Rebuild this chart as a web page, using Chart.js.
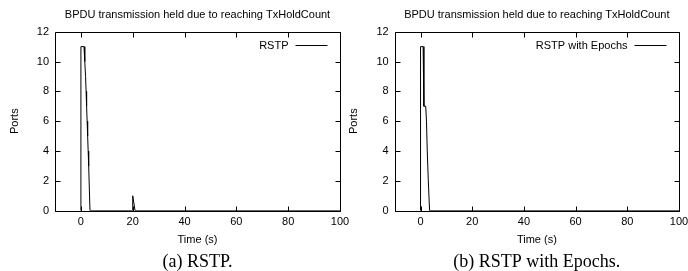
<!DOCTYPE html>
<html>
<head>
<meta charset="utf-8">
<script src="https://cdn.jsdelivr.net/npm/chart.js@4.4.0/dist/chart.umd.min.js"></script>
<style>
  html, body { margin: 0; padding: 0; background: #fff; overflow: hidden; }
  #wrap { position: relative; width: 688px; height: 271px; overflow: hidden; }
  canvas { position: absolute; top: 0; }
</style>
</head>
<body>
<div id="wrap">
  <canvas id="left" width="360" height="271" style="left:0"></canvas>
  <canvas id="right" width="360" height="271" style="left:344px"></canvas>
</div>
<script>
const titleText = 'BPDU transmission held due to reaching TxHoldCount';
const xTicks = [0, 20, 40, 60, 80, 100];
const yTicks = [0, 2, 4, 6, 8, 10, 12];

// (a) RSTP
const rstpTime  = [0, 0, 1.2, 1.5, 1.8, 2.0, 2.2, 2.4, 2.6, 2.8, 3.0, 3.5, 19.9, 20, 20.9, 100];
const rstpPorts = [0, 11, 11, 10, 9, 8, 7, 6, 5, 4, 3, 0, 0, 1, 0, 0];

// (b) RSTP with Epochs
const epochTime  = [0, 0, 1.0, 1.3, 2.0, 2.3, 2.6, 3.0, 3.5, 100];
const epochPorts = [0, 11, 11, 7, 7, 6, 4, 2, 0, 0];

Chart.defaults.font.family = "'Liberation Sans', Arial, sans-serif";
Chart.defaults.font.size = 11;
Chart.defaults.color = '#000';

// gnuplot style box with inward ticks on all four sides + key at top right
const frame = {
  id: 'frame',
  afterDatasetsDraw(chart) {
    const { ctx, chartArea: a, scales: { x, y } } = chart;
    const L = Math.round(a.left) + 0.5, R = Math.round(a.right) + 0.5;
    const T = Math.round(a.top) + 0.5, B = Math.round(a.bottom) + 0.5;
    const len = 5;
    ctx.save();
    ctx.strokeStyle = '#000';
    ctx.lineWidth = 1;
    ctx.beginPath();
    ctx.rect(L, T, R - L, B - T);
    xTicks.forEach(v => {
      const px = Math.round(x.getPixelForValue(v)) + 0.5;
      ctx.moveTo(px, B); ctx.lineTo(px, B - len);
      ctx.moveTo(px, T); ctx.lineTo(px, T + len);
    });
    yTicks.forEach(v => {
      const py = Math.round(y.getPixelForValue(v)) + 0.5;
      ctx.moveTo(L, py); ctx.lineTo(L + len, py);
      ctx.moveTo(R, py); ctx.lineTo(R - len, py);
    });
    ctx.stroke();

    // key
    const ds = chart.data.datasets[0];
    const ky = Math.round(T + 12) + 0.5;
    const x1 = R - 45, x2 = R - 13;
    ctx.beginPath();
    ctx.strokeStyle = ds.borderColor;
    ctx.moveTo(x1, ky); ctx.lineTo(x2, ky);
    ctx.stroke();
    ctx.fillStyle = '#000';
    ctx.font = "11px 'Liberation Sans', Arial, sans-serif";
    ctx.textAlign = 'right';
    ctx.textBaseline = 'middle';
    ctx.fillText(ds.label, x1 - 7, ky);
    ctx.restore();
  }
};

function makeChart(id, times, ports, label, caption, yWidth, padRight, portsPad) {
  const pts = times.map((t, i) => ({ x: t, y: ports[i] }));
  return new Chart(document.getElementById(id), {
    type: 'line',
    data: {
      datasets: [{
        label: label,
        data: pts,
        borderColor: '#000',
        backgroundColor: '#000',
        borderWidth: 1,
        pointRadius: 0,
        tension: 0,
        fill: false
      }]
    },
    options: {
      responsive: false,
      animation: false,
      layout: { padding: { left: 0, right: padRight, top: 0, bottom: 0 } },
      scales: {
        x: {
          type: 'linear',
          min: -10, max: 100,
          afterBuildTicks: s => { s.ticks = xTicks.map(v => ({ value: v })); },
          afterFit: s => { s.height = 42.3; },
          grid: { display: false, drawTicks: false },
          border: { display: false },
          ticks: { padding: 5, maxRotation: 0 },
          title: { display: true, text: 'Time (s)', padding: { top: 0, bottom: 6.4 } }
        },
        y: {
          min: 0, max: 12,
          afterBuildTicks: s => { s.ticks = yTicks.map(v => ({ value: v })); },
          afterFit: s => { s.width = yWidth; },
          grid: { display: false, drawTicks: false },
          border: { display: false },
          ticks: { padding: 6 },
          title: { display: true, text: 'Ports', padding: { top: portsPad, bottom: 0 } }
        }
      },
      plugins: {
        title: {
          display: true,
          text: titleText,
          fullSize: false,
          font: { size: 11, weight: 'normal' },
          padding: { top: 8, bottom: 10.5 }
        },
        subtitle: {
          display: true,
          text: caption,
          position: 'bottom',
          fullSize: false,
          color: '#000',
          font: { family: "'Liberation Serif', 'Times New Roman', serif", size: 18, lineHeight: 1 },
          padding: { top: 0, bottom: 0 }
        },
        legend: { display: false },
        tooltip: { enabled: false }
      }
    },
    plugins: [frame]
  });
}

makeChart('left', rstpTime, rstpPorts, 'RSTP', '(a) RSTP.', 55, 20, 8.4);
makeChart('right', epochTime, epochPorts, 'RSTP with Epochs', '(b) RSTP with Epochs.', 50.7, 25, 3.4);
</script>
</body>
</html>
